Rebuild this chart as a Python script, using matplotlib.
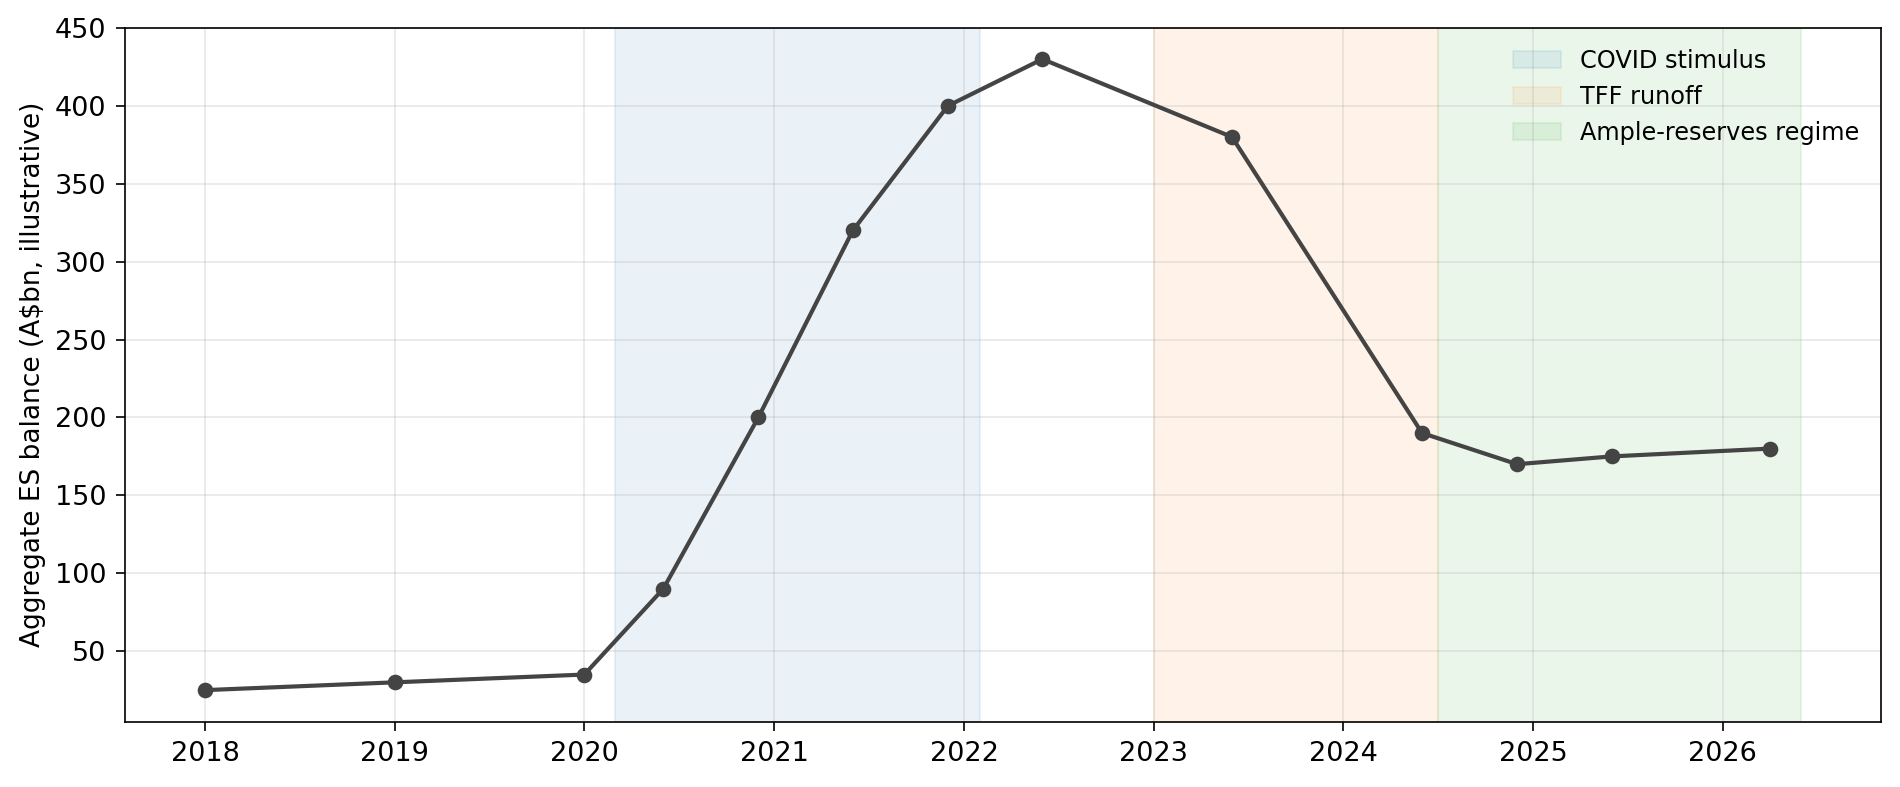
import matplotlib
matplotlib.use("Agg")
import matplotlib.pyplot as plt
import pandas as pd

# Aggregate exchange settlement balances (illustrative)
dates = ["2018-01-01", "2019-01-01", "2020-01-01", "2020-06-01", "2020-12-01",
         "2021-06-01", "2021-12-01", "2022-06-01", "2023-06-01", "2024-06-01",
         "2024-12-01", "2025-06-01", "2026-04-01"]
balance = [25, 30, 35, 90, 200, 320, 400, 430, 380, 190, 170, 175, 180]

# Shaded regimes
span_labels = ["COVID stimulus", "TFF runoff", "Ample-reserves regime"]
span_starts = ["2020-03-01", "2023-01-01", "2024-07-01"]
span_ends = ["2022-02-01", "2024-07-01", "2026-06-01"]
span_colors = ["tab:blue", "tab:orange", "tab:green"]

plt.rcParams["font.size"] = 13

x = pd.to_datetime(dates)

fig, ax = plt.subplots(figsize=(1900 / 150, 787 / 150), dpi=150)

for lab, s, e, c in zip(span_labels, span_starts, span_ends, span_colors):
    ax.axvspan(pd.Timestamp(s), pd.Timestamp(e), color=c, alpha=0.09, label=lab)

ax.plot(x, balance, color="#444444", lw=2, marker="o", markersize=6.5)

ax.set_ylabel("Aggregate ES balance (A$bn, illustrative)", fontsize=12.7)
ax.tick_params(length=4.2, pad=5)
ax.grid(True, alpha=0.3)
ax.legend(loc="upper right", frameon=False, fontsize=11.5)

fig.subplots_adjust(left=0.066, right=0.99, top=0.965, bottom=0.083)
fig.savefig("out.png", dpi=150)
